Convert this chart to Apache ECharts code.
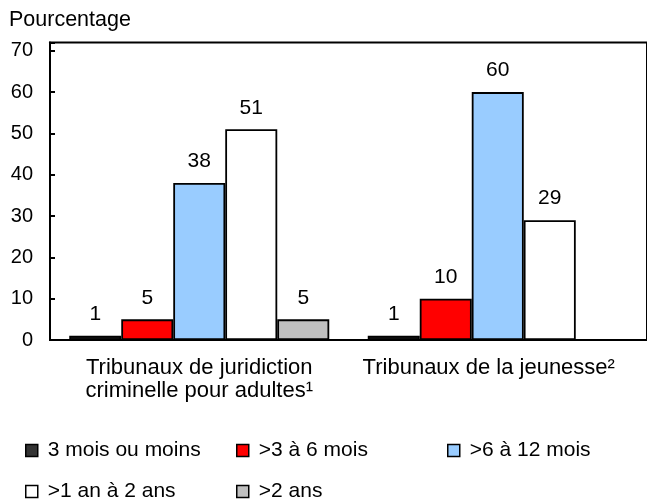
<!DOCTYPE html>
<html>
<head>
<meta charset="utf-8">
<script src="https://cdn.jsdelivr.net/npm/echarts@6/dist/echarts.min.js"></script>
<style>
  html, body { margin: 0; padding: 0; background: #fff; }
  #main { width: 647px; height: 504px; }
</style>
</head>
<body>
<div id="main"></div>
<script>
// categories and values
var categories = ['Tribunaux de juridiction\ncriminelle pour adultes¹', 'Tribunaux de la jeunesse²'];
var seriesNames = ['3 mois ou moins', '>3 à 6 mois', '>6 à 12 mois', '>1 an à 2 ans', '>2 ans'];
var seriesColors = ['#333333', '#ff0000', '#99ccff', '#ffffff', '#c0c0c0'];
var moins3 = [1, 1];
var de3a6 = [5, 10];
var de6a12 = [38, 60];
var de1a2ans = [51, 29];
var plus2ans = [5, '-'];
var yTicks = [0, 10, 20, 30, 40, 50, 60, 70];

var font = "'Liberation Sans', Arial, Helvetica, sans-serif";
var values = [moins3, de3a6, de6a12, de1a2ans, plus2ans];

var myChart = echarts.init(document.getElementById('main'));

var series = values.map(function (v, i) {
  return {
    name: seriesNames[i],
    type: 'bar',
    data: v,
    barWidth: 52,
    barGap: '0%',
    itemStyle: { color: seriesColors[i], borderColor: '#000', borderWidth: 1.8 },
    label: {
      show: true,
      position: 'top',
      distance: 11,
      fontSize: 21,
      fontFamily: font,
      color: '#000'
    }
  };
});

// legend laid out as a 3-column grid, one legend per item
var legendPos = [[25, 440], [236, 440], [447, 440], [25, 481], [236, 481]];
var legends = seriesNames.map(function (n, i) {
  return {
    data: [n],
    left: legendPos[i][0],
    top: legendPos[i][1],
    padding: 0,
    itemWidth: 12,
    itemHeight: 12,
    icon: 'rect',
    selectedMode: false,
    itemStyle: { borderWidth: 1.5 },
    textStyle: { fontSize: 21, fontFamily: font, color: '#000', padding: [0, 0, 0, 5] }
  };
});

// second category label sits a little left of its group in the reference
var xData = categories.map(function (c, i) {
  return i === 1 ? { value: c, textStyle: { padding: [0, 18, 0, 0] } } : c;
});

myChart.setOption({
  animation: false,
  title: {
    text: 'Pourcentage',
    left: 4,
    top: 4,
    textStyle: { fontSize: 21.5, fontWeight: 'normal', fontFamily: font, color: '#000' }
  },
  legend: legends,
  grid: {
    left: 50,
    right: -5,
    top: 42.5,
    bottom: 164,
    show: true,
    borderColor: '#000',
    borderWidth: 2
  },
  xAxis: {
    type: 'category',
    data: xData,
    axisLine: { lineStyle: { color: '#000', width: 2 } },
    axisTick: { show: false },
    axisLabel: { interval: 0, fontSize: 22, lineHeight: 23, margin: 16, color: '#000', fontFamily: font }
  },
  yAxis: {
    type: 'value',
    min: 0,
    max: 72,
    interval: 10,
    axisLine: { show: true, lineStyle: { color: '#000', width: 2 } },
    axisTick: { show: true, inside: true, length: 5, lineStyle: { color: '#000', width: 2 } },
    splitLine: { show: false },
    axisLabel: {
      fontSize: 20,
      margin: 17,
      color: '#000',
      fontFamily: font,
      formatter: function (v) { return yTicks.indexOf(v) >= 0 ? String(v) : ''; }
    }
  },
  series: series
});
</script>
</body>
</html>
